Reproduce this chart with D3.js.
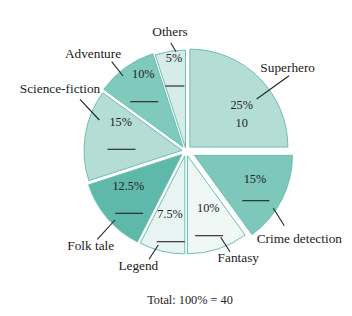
<!DOCTYPE html>
<meta charset="utf-8">
<style>
body { margin: 0; background: #fff; }
svg text { font-family: "Liberation Serif", serif; fill: #222; }
.name { font-size: 13.3px; }
.num { font-size: 12.3px; }
.slice { stroke: #6dbfb1; stroke-width: 1; }
.blank, .leader { stroke: #222; stroke-width: 1.1; }
</style>
<body>
<script src="https://d3js.org/d3.v7.min.js"></script>
<script>

var width = 352;
var height = 316;

// data
var categories = ['Superhero', 'Crime detection', 'Fantasy', 'Legend', 'Folk tale', 'Science-fiction', 'Adventure', 'Others'];
var percents = [25, 15, 10, 7.5, 12.5, 15, 10, 5];
var answers = ['10', null, null, null, null, null, null, null];   // only the worked one is filled in
var total = 40;

// look
var colors = ['#b4ddd6', '#7dc7bb', '#f0f8f6', '#e7f4f1', '#5fb9aa', '#b4ddd6', '#80c9bd', '#d6ece8'];
var explode = [5.5, 9.5, 5, 5, 5.5, 4, 5, 3];

// label placement, offsets from the pie centre
var pctAt = [[55.7, -46], [69, 28.3], [22.3, 57.3], [-16, 63], [-57.7, 35], [-65.3, -29.3], [-42.7, -77], [-12, -93]];
var blankGap = [17.7, 21.4, 27.4, 27.7, 27.3, 27.6, 27.7, 28];
var blankLen = [28, 27, 28, 28, 28, 28, 28, 19];
var nameAt = [[101.7, -79.3], [113.3, 92.3], [52.3, 110.7], [-47.7, 119], [-95.3, 99], [-126, -58], [-93, -93], [-16, -115]];
var leaders = [
  [103, -75.3, 70.7, -52],
  [87.3, 57.3, 98.3, 74.7],
  [34.7, 86.3, 44, 100.7],
  [-37, 108.3, -27.7, 94],
  [-88.7, 88.3, -71, 69],
  [-106, -51.7, -86.7, -31],
  [-74.3, -89.3, -63, -75],
  [-15.3, -108.3, -10, -99.3]
];

var cx = 186, cy = 151, radius = 98;

var svg = d3.select('body')
  .append('svg')
  .attr('width', width)
  .attr('height', height);

var pie = d3.pie().sort(null).value(d => d);
var arcs = pie(percents);
var arc = d3.arc().innerRadius(0).outerRadius(radius);

var g = svg.append('g').attr('transform', 'translate(' + cx + ',' + cy + ')');

// slices, each pushed out a little along its bisector
g.selectAll('.slice')
  .data(arcs)
  .enter()
  .append('path')
  .attr('class', 'slice')
  .attr('fill', (d, i) => colors[i])
  .attr('transform', (d, i) => {
    var p = d3.pointRadial((d.startAngle + d.endAngle) / 2, explode[i]);
    return 'translate(' + p[0] + ',' + p[1] + ')';
  })
  .attr('d', arc);

// percentage inside each slice
g.selectAll('.pct')
  .data(arcs)
  .enter()
  .append('text')
  .attr('class', 'num pct')
  .attr('text-anchor', 'middle')
  .attr('x', (d, i) => pctAt[i][0])
  .attr('y', (d, i) => pctAt[i][1] + 4)
  .text((d, i) => d3.format('~g')(percents[i]) + '%');

// answer or blank to fill in
arcs.forEach((d, i) => {
  var x = pctAt[i][0], y = pctAt[i][1] + blankGap[i];
  if (answers[i] != null) {
    g.append('text')
      .attr('class', 'num')
      .attr('text-anchor', 'middle')
      .attr('x', x)
      .attr('y', y + 4)
      .text(answers[i]);
  } else {
    g.append('line')
      .attr('class', 'blank')
      .attr('x1', x - blankLen[i] / 2 + 0.8)
      .attr('x2', x + blankLen[i] / 2 + 0.8)
      .attr('y1', y)
      .attr('y2', y);
  }
});

// category names with leader lines
g.selectAll('.leader')
  .data(leaders)
  .enter()
  .append('line')
  .attr('class', 'leader')
  .attr('x1', d => d[0])
  .attr('y1', d => d[1])
  .attr('x2', d => d[2])
  .attr('y2', d => d[3]);

g.selectAll('.name')
  .data(categories)
  .enter()
  .append('text')
  .attr('class', 'name')
  .attr('text-anchor', 'middle')
  .attr('x', (d, i) => nameAt[i][0])
  .attr('y', (d, i) => nameAt[i][1])
  .text(d => d);

svg.append('text')
  .attr('class', 'num')
  .attr('text-anchor', 'middle')
  .attr('x', 190)
  .attr('y', 304)
  .text('Total: ' + d3.sum(percents) + '% = ' + total);

</script>
</body>
